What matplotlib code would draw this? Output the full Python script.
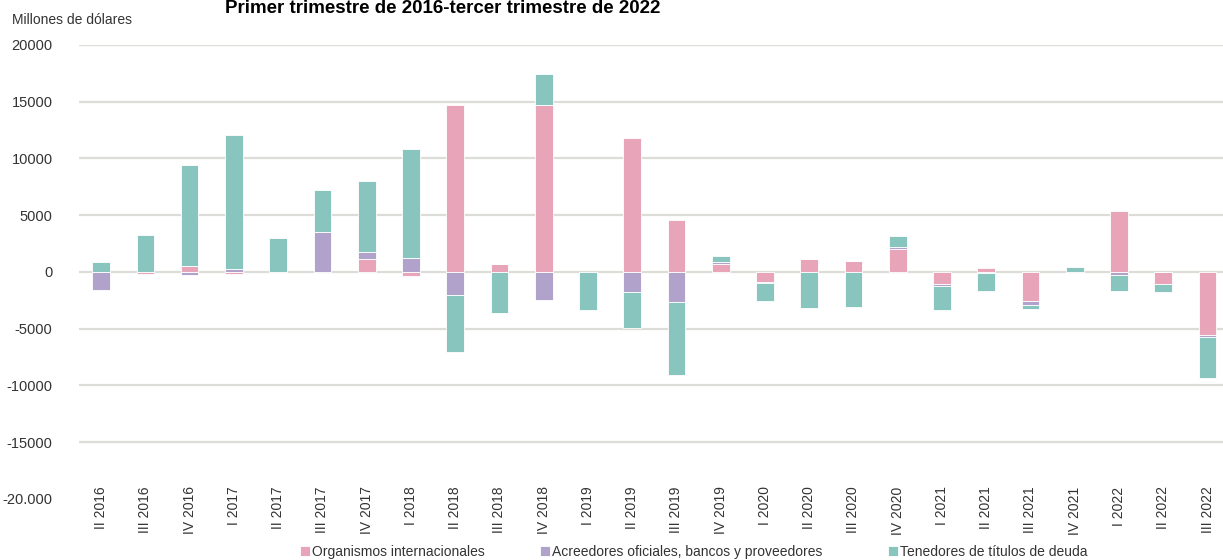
import numpy as np
import matplotlib.pyplot as plt

plt.rcParams['font.family'] = ['Liberation Sans', 'DejaVu Sans']

# trimestres (etiquetas tal cual aparecen en el grafico)
trimestres = ["II 2016", "III 2016", "IV 2016", "I 2017", "II 2017", "III 2017",
              "IV 2017", "I 2018", "II 2018", "III 2018", "IV 2018", "I 2019",
              "II 2019", "III 2019", "IV 2019", "I 2020", "II 2020", "III 2020",
              "IV 2020", "I 2021", "II 2021", "III 2021", "IV 2021", "I 2022",
              "II 2022", "III 2022"]

# millones de dolares
organismos = [0, -150, 560, -200, 0, 0, 1120, -350, 14750, 675, 14720, 0,
              11830, 4590, 706, -880, 1120, 940, 2060, -1030, 325, -2560,
              0, 5415, -1060, -5565]
acreedores = [-1590, 0, -300, 300, 0, 3560, 675, 1207, -2030, 0, -2440, 0,
              -1795, -2680, 207, -100, 0, 0, 120, -205, -100, -380,
              0, -300, 0, -170]
tenedores = [850, 3240, 8890, 11770, 3030, 3620, 6180, 9620, -5000, -3590,
             2760, -3355, -3120, -6415, 500, -1610, -3210, -3060, 1000, -2090,
             -1580, -300, 440, -1350, -735, -3625]

series = [("Organismos internacionales", organismos, "#E8A5BA"),
          ("Acreedores oficiales, bancos y proveedores", acreedores, "#B0A2CA"),
          ("Tenedores de títulos de deuda", tenedores, "#88C5BE")]

fig = plt.figure(figsize=(12.23, 5.6), dpi=100)
ax = fig.add_axes([0.0646, 0.109, 0.9354, 0.8107])

x = np.arange(len(trimestres))
pos = np.zeros(len(x))
neg = np.zeros(len(x))
handles = []
for name, vals, col in series:
    v = np.array(vals, dtype=float)
    base = np.where(v >= 0, pos, neg)
    b = ax.bar(x, v, 0.4, bottom=base, color=col, edgecolor="white",
               linewidth=0.6, label=name, zorder=3)
    handles.append(b)
    pos = pos + np.where(v > 0, v, 0)
    neg = neg + np.where(v < 0, v, 0)

yt = np.arange(-20000, 20001, 5000)
for y in yt[1:]:
    ax.axhline(y, color="#DCDCD8", linewidth=1.6, zorder=1)
ax.set_yticks(yt)
ax.set_yticklabels(["-20.000"] + [str(v) for v in yt[1:]], fontsize=10.5, color="#333333")
ax.set_ylim(-20000, 20000)
ax.set_xlim(-0.5, 25.35)
ax.set_xticks(x)
ax.set_xticklabels(trimestres, rotation=90, fontsize=10, color="#333333")
ax.tick_params(axis="y", length=0, pad=19)
ax.tick_params(axis="x", length=0, pad=-9)
for s in ax.spines.values():
    s.set_visible(False)

fig.text(0.01, 0.965, "Millones de dólares", fontsize=10, color="#333333", va="center")
fig.text(0.184, 0.985, "Primer trimestre de 2016-tercer trimestre de 2022",
         fontsize=13.5, fontweight="bold", va="center")

# leyenda: una entrada por serie, en su posicion
for h, xl in zip(handles, [300, 540, 888]):
    fig.legend(handles=[h], loc="lower left", bbox_to_anchor=(xl / 1223, 0.002),
               frameon=False, fontsize=10, handlelength=0.7, handleheight=0.7,
               handletextpad=0.15, borderpad=0, borderaxespad=0, labelcolor="#333333")

plt.savefig("out.png", dpi=100)
